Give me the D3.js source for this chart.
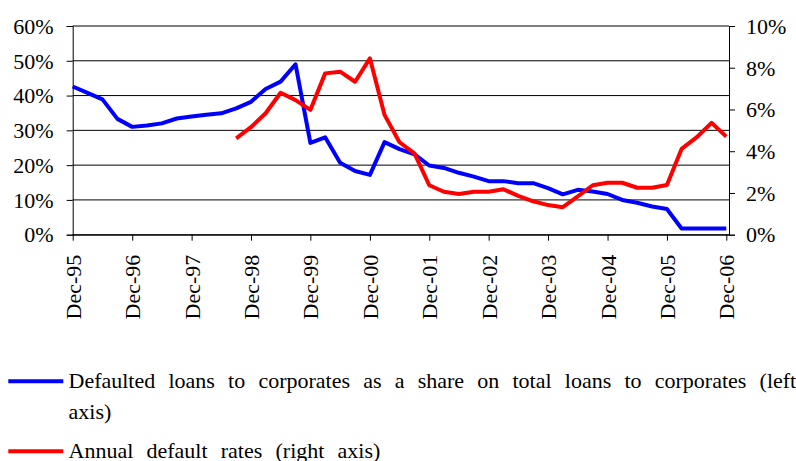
<!DOCTYPE html>
<html>
<head>
<meta charset="utf-8">
<script src="https://cdn.jsdelivr.net/npm/d3@7/dist/d3.min.js"></script>
<style>
  html, body { margin: 0; padding: 0; background: #fff; }
  svg { display: block; }
</style>
</head>
<body>
<svg id="chart" width="796" height="461"></svg>
<script>
// Quarter-end observations, Dec-95 .. Dec-06
const quarters = [
  "1995-12","1996-03","1996-06","1996-09","1996-12","1997-03","1997-06","1997-09","1997-12",
  "1998-03","1998-06","1998-09","1998-12","1999-03","1999-06","1999-09","1999-12",
  "2000-03","2000-06","2000-09","2000-12","2001-03","2001-06","2001-09","2001-12",
  "2002-03","2002-06","2002-09","2002-12","2003-03","2003-06","2003-09","2003-12",
  "2004-03","2004-06","2004-09","2004-12","2005-03","2005-06","2005-09","2005-12",
  "2006-03","2006-06","2006-09","2006-12"
];

// Defaulted loans to corporates, % of total loans to corporates (left axis)
const defaultedShare = [
  42.6, 40.8, 38.9, 33.3, 31.0, 31.4, 32.0, 33.4, 34.0,
  34.5, 34.9, 36.3, 38.2, 41.9, 44.0, 49.0, 26.4,
  28.0, 20.7, 18.3, 17.2, 26.6, 24.6, 23.1, 19.9,
  19.2, 17.8, 16.7, 15.4, 15.4, 14.8, 14.8, 13.4,
  11.6, 12.9, 12.4, 11.7, 10.0, 9.2, 8.1, 7.4,
  1.8, 1.8, 1.8, 1.8
];

// Annual default rates, % (right axis); series starts Sep-98
const annualDefaultRate = [
  null, null, null, null, null, null, null, null, null,
  null, null, 4.62, 5.15, 5.82, 6.80, 6.45, 5.98,
  7.73, 7.81, 7.33, 8.45, 5.74, 4.43, 3.90, 2.37,
  2.06, 1.95, 2.06, 2.06, 2.18, 1.86, 1.60, 1.42,
  1.32, 1.84, 2.37, 2.49, 2.49, 2.25, 2.25, 2.38,
  4.11, 4.66, 5.36, 4.70
];

const xTickDates = ["1995-12","1996-12","1997-12","1998-12","1999-12","2000-12",
                    "2001-12","2002-12","2003-12","2004-12","2005-12","2006-12"];
const xTickLabels = ["Dec-95","Dec-96","Dec-97","Dec-98","Dec-99","Dec-00",
                     "Dec-01","Dec-02","Dec-03","Dec-04","Dec-05","Dec-06"];
const leftTicks = [0, 10, 20, 30, 40, 50, 60];
const rightTicks = [0, 2, 4, 6, 8, 10];

const seriesNames = [
  ["Defaulted loans to corporates as a share on total loans to corporates (left", "axis)"],
  ["Annual default rates (right axis)"]
];
const seriesColors = ["#0000ff", "#ff0000"];

const FAMILY = "'Liberation Serif', 'Times New Roman', serif";
const FONT = "22px";

const parse = d3.timeParse("%Y-%m");
const dates = quarters.map(parse);

const plot = { left: 72.7, right: 729, top: 26, bottom: 234.7 };

const x = d3.scaleTime()
  .domain([parse("1995-12"), parse("2006-12")])
  .range([plot.left, 726.3]);
const yL = d3.scaleLinear().domain([0, 60]).range([plot.bottom, plot.top]);
const yR = d3.scaleLinear().domain([0, 10]).range([plot.bottom, plot.top]);

const svg = d3.select("#chart");

// horizontal gridlines at the left-axis ticks
svg.append("g")
  .selectAll("line")
  .data(leftTicks)
  .join("line")
  .attr("x1", plot.left).attr("x2", plot.right)
  .attr("y1", d => yL(d)).attr("y2", d => yL(d))
  .attr("stroke", "#000").attr("stroke-width", 1);

// left axis
const gL = svg.append("g")
  .attr("transform", `translate(${plot.left},0)`)
  .call(d3.axisLeft(yL).tickValues(leftTicks).tickSize(6).tickPadding(13)
        .tickFormat(d => d + "%"));
gL.selectAll("text").attr("dy", "0.33em");

// right axis
const gR = svg.append("g")
  .attr("transform", `translate(${plot.right},0)`)
  .call(d3.axisRight(yR).tickValues(rightTicks).tickSize(6).tickPadding(11)
        .tickFormat(d => d + "%"));
gR.selectAll("text").attr("dy", "0.33em");

// bottom axis with rotated date labels
const gB = svg.append("g")
  .attr("transform", `translate(0,${plot.bottom})`)
  .call(d3.axisBottom(x).tickValues(xTickDates.map(parse)).tickSize(6)
        .tickFormat((d, i) => xTickLabels[i]));
gB.select(".domain").attr("d", `M${plot.left},0.5H${plot.right}`);
gB.selectAll("text")
  .attr("text-anchor", "end")
  .attr("transform", "rotate(-90)")
  .attr("x", -20)
  .attr("y", 0)
  .attr("dy", "0.34em")
  .attr("dx", 0);

[gL, gR, gB].forEach(g => {
  g.attr("font-family", FAMILY).attr("font-size", FONT);
  g.selectAll("text").style("font-family", FAMILY).style("font-size", FONT).attr("fill", "#000");
  g.selectAll(".domain").attr("stroke", "#000");
  g.selectAll(".tick line").attr("stroke", "#000");
});

// series lines
const lineL = d3.line()
  .defined(d => d.v != null)
  .x(d => x(d.t)).y(d => yL(d.v));
const lineR = d3.line()
  .defined(d => d.v != null)
  .x(d => x(d.t)).y(d => yR(d.v));

svg.append("path")
  .datum(dates.map((t, i) => ({ t, v: defaultedShare[i] })))
  .attr("d", lineL)
  .attr("fill", "none").attr("stroke", seriesColors[0])
  .attr("stroke-width", 4).attr("stroke-linejoin", "round");

svg.append("path")
  .datum(dates.map((t, i) => ({ t, v: annualDefaultRate[i] })))
  .attr("d", lineR)
  .attr("fill", "none").attr("stroke", seriesColors[1])
  .attr("stroke-width", 4).attr("stroke-linejoin", "round");

// legend
const legendRows = [
  { y: 381.3, baselines: [388, 419] },
  { y: 451.3, baselines: [457.5] }
];
legendRows.forEach((row, i) => {
  svg.append("line")
    .attr("x1", 8.3).attr("x2", 63.3)
    .attr("y1", row.y).attr("y2", row.y)
    .attr("stroke", seriesColors[i]).attr("stroke-width", 4);
  seriesNames[i].forEach((txt, j) => {
    svg.append("text")
      .attr("x", 68.5).attr("y", row.baselines[j])
      .style("font-family", FAMILY)
      .style("font-size", FONT)
      .style("word-spacing", "7.7px")
      .attr("fill", "#000")
      .text(txt);
  });
});
</script>
</body>
</html>
